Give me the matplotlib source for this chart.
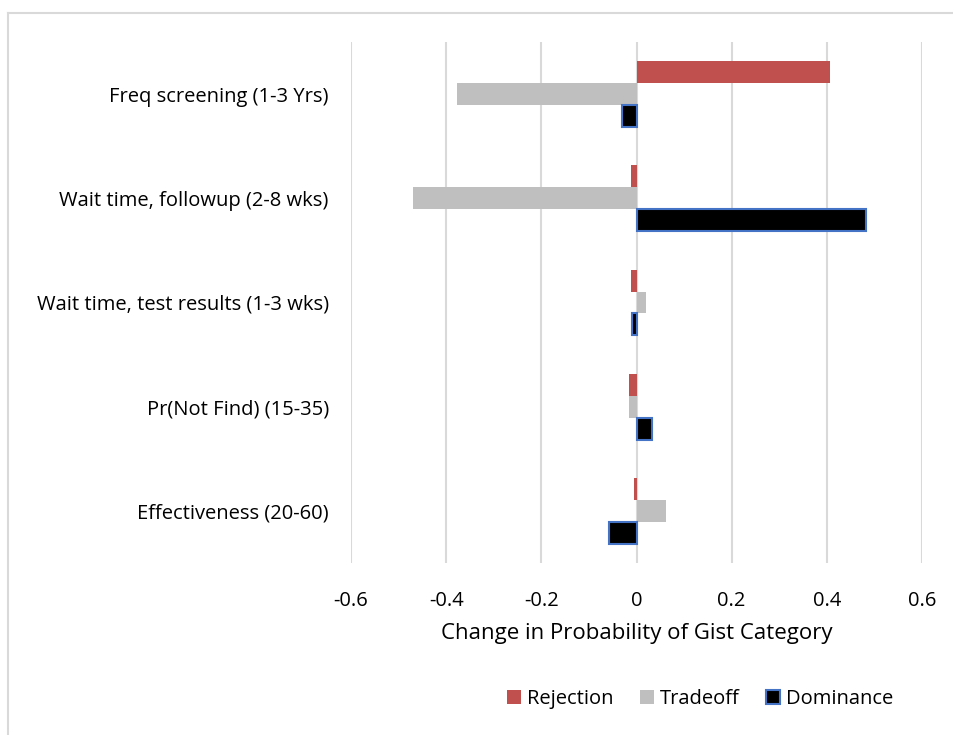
import numpy as np
import matplotlib
matplotlib.use("Agg")
import matplotlib.pyplot as plt
from matplotlib.lines import Line2D

plt.rcParams['font.family'] = ['Open Sans', 'DejaVu Sans']

categories = ["Freq screening (1-3 Yrs)", "Wait time, followup (2-8 wks)",
              "Wait time, test results (1-3 wks)", "Pr(Not Find) (15-35)",
              "Effectiveness (20-60)"]
rejection = [0.406, -0.012, -0.012, -0.016, -0.006]
tradeoff = [-0.377, -0.470, 0.019, -0.016, 0.061]
dominance = [-0.030, 0.482, -0.009, 0.033, -0.057]
xticks = [-0.6, -0.4, -0.2, 0, 0.2, 0.4, 0.6]

fig = plt.figure(figsize=(9.54, 7.35), dpi=100)
ax = fig.add_axes([351/954, 1 - 563/735, (922-351)/954, (563-42)/735])

y = np.arange(len(categories))
h = 0.21
ax.barh(y - h, rejection, height=h, color='#C0504D', label='Rejection', zorder=3)
ax.barh(y, tradeoff, height=h, color='#BFBFBF', label='Tradeoff', zorder=3)
ax.barh(y + h, dominance, height=h, color='black', edgecolor='#4472C4',
        linewidth=1.5, label='Dominance', zorder=3)

ax.set_xlim(-0.6, 0.6)
ax.set_ylim(len(categories) - 0.5, -0.5)
ax.set_xticks(xticks)
ax.set_xticklabels(['-0.6', '-0.4', '-0.2', '0', '0.2', '0.4', '0.6'])
ax.set_yticks(y)
ax.set_yticklabels(categories)
ax.tick_params(axis='both', length=0, labelsize=14.5)
ax.tick_params(axis='y', pad=16)
ax.tick_params(axis='x', pad=20)
ax.xaxis.grid(True, color='#D9D9D9', linewidth=1.5, zorder=0)
for s in ax.spines.values():
    s.set_visible(False)
ax.set_xlabel("Change in Probability of Gist Category", fontsize=16, labelpad=9)

fig.legend(loc='center', bbox_to_anchor=(700/954, 1 - 699/735), ncol=3,
           frameon=False, fontsize=14.5, handlelength=0.7, handleheight=0.7,
           handletextpad=0.3, columnspacing=1.3)

# chart-area border (left and top edges visible)
fig.add_artist(Line2D([8/954, 8/954], [0, 1 - 13/735], transform=fig.transFigure,
                      color='#D9D9D9', linewidth=1.5))
fig.add_artist(Line2D([8/954, 1], [1 - 13/735, 1 - 13/735], transform=fig.transFigure,
                      color='#D9D9D9', linewidth=1.5))

fig.savefig("out.png", dpi=100)
